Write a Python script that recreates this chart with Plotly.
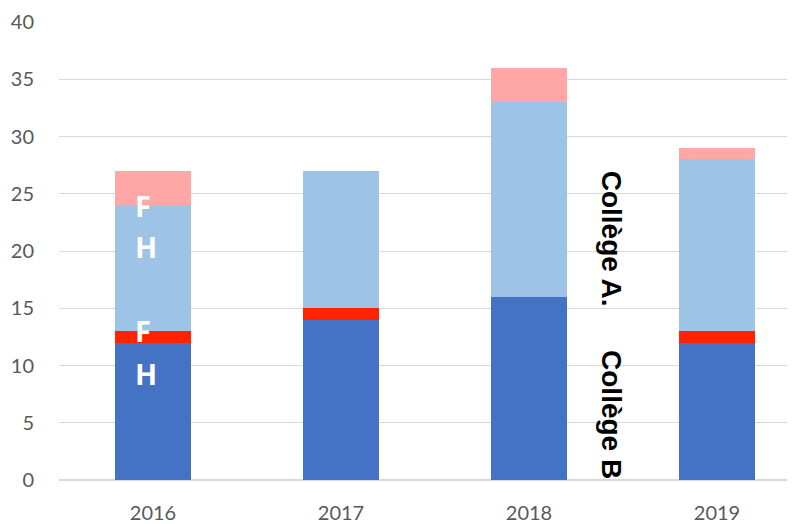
import plotly.graph_objects as go

years = ["2016", "2017", "2018", "2019"]
college_b_h = [12, 14, 16, 12]
college_b_f = [1, 1, 0, 1]
college_a_h = [11, 12, 17, 15]
college_a_f = [3, 0, 3, 1]

series = [
    ("Collège B H", college_b_h, "#4472C4"),
    ("Collège B F", college_b_f, "#FF2300"),
    ("Collège A H", college_a_h, "#9DC3E6"),
    ("Collège A F", college_a_f, "#FFA7A7"),
]

fig = go.Figure()
for name, vals, color in series:
    fig.add_trace(
        go.Bar(
            x=years,
            y=vals,
            name=name,
            marker=dict(color=color, line=dict(width=0)),
        )
    )

# letters inside the 2016 bar
for txt, xv, yv in [("F", -0.055, 24.0), ("H", -0.035, 20.35), ("F", -0.055, 13.05), ("H", -0.035, 9.3)]:
    fig.add_annotation(
        x=xv, y=yv, xref="x", yref="y", text=f"<b>{txt}</b>", showarrow=False,
        font=dict(family="Open Sans", size=29, color="white"),
    )

# rotated school labels
for txt, yv in [("Collège A.", 21.1), ("Collège B", 5.7)]:
    fig.add_annotation(
        x=2.44, y=yv, xref="x", yref="y", text=f"<b>{txt}</b>", showarrow=False,
        textangle=90, font=dict(family="Liberation Sans", size=28, color="black"),
    )

# page body has an 8px margin, so the figure is sized and offset for that
fig.update_layout(
    barmode="stack",
    bargap=0.6,
    width=787,
    height=516,
    margin=dict(l=51, r=0, t=14, b=42),
    plot_bgcolor="white",
    paper_bgcolor="white",
    showlegend=False,
    font=dict(family="Lato", size=20, color="#595959"),
    xaxis=dict(
        range=[-0.5, 3.415],
        showgrid=False,
        showline=False,
        ticks="",
        ticklabelstandoff=19,
    ),
    yaxis=dict(
        range=[0, 40],
        dtick=5,
        gridcolor="#D9D9D9",
        zeroline=True,
        zerolinecolor="#D9D9D9",
        ticks="",
        ticklabelstandoff=24,
    ),
)

fig.write_html("out.html")
